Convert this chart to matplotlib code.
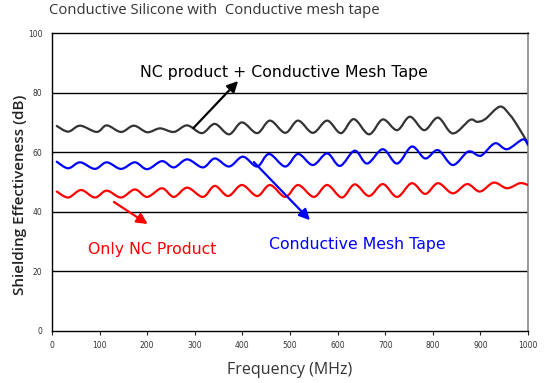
import numpy as np
import matplotlib.pyplot as plt
from matplotlib.path import Path
from matplotlib.patches import PathPatch

# Frequency (MHz) / shielding effectiveness (dB) at wave peaks and troughs
freq_combo = [10, 34, 59, 94, 115, 145, 172, 200, 227, 256, 284, 315, 342, 372, 399, 431,
              458, 490, 517, 548, 578, 607, 634, 666, 695, 725, 752, 782, 811, 842, 878,
              893, 910, 941, 962, 977, 1000]
se_combo = [68.8, 66.9, 68.9, 66.8, 69.0, 66.8, 68.9, 66.7, 68.0, 66.8, 69.0, 66.4, 69.5,
            66.0, 70.0, 66.4, 70.6, 66.5, 70.6, 66.5, 70.6, 66.4, 71.1, 66.0, 71.0, 67.4,
            71.9, 67.4, 71.6, 66.3, 70.8, 70.2, 71.1, 75.3, 72.5, 69.1, 63.0]

freq_tape = [10, 34, 59, 90, 115, 145, 174, 200, 231, 256, 284, 317, 342, 372, 401, 431,
             456, 490, 517, 548, 578, 605, 636, 662, 695, 725, 756, 784, 811, 842, 874,
             895, 905, 931, 956, 989, 1000]
se_tape = [56.8, 54.6, 56.6, 54.4, 56.6, 54.4, 56.6, 54.3, 57.0, 54.9, 57.6, 54.9, 57.9,
           55.2, 58.5, 55.2, 59.4, 55.2, 59.4, 55.7, 59.6, 55.4, 60.5, 56.2, 61.0, 56.2,
           61.9, 57.9, 60.7, 55.7, 60.2, 58.9, 59.2, 63.0, 61.0, 64.3, 62.4]

freq_nc = [10, 34, 61, 90, 115, 145, 174, 200, 231, 256, 284, 317, 342, 370, 399, 431,
           458, 490, 517, 550, 578, 609, 636, 666, 695, 725, 756, 784, 811, 842, 872,
           899, 928, 956, 983, 1000]
se_nc = [46.8, 44.8, 47.3, 44.8, 47.1, 44.8, 47.5, 45.0, 47.9, 45.0, 48.1, 45.0, 48.7,
         45.3, 49.0, 45.3, 49.0, 45.0, 49.0, 45.0, 49.0, 44.8, 49.2, 45.3, 49.3, 45.0,
         49.6, 46.0, 49.6, 46.2, 49.3, 46.8, 49.8, 47.9, 49.6, 49.0]

x_ticks = list(range(0, 1001, 100))
y_ticks = [0, 20, 40, 60, 80, 100]


def smooth_line(ax, xs, ys, color, lw=1.6):
    # Excel-style smoothed line: Catmull-Rom segments drawn as cubic Beziers
    pts = np.column_stack([xs, ys]).astype(float)
    verts = [pts[0]]
    codes = [Path.MOVETO]
    n = len(pts)
    for i in range(n - 1):
        p0 = pts[max(i - 1, 0)]
        p1 = pts[i]
        p2 = pts[i + 1]
        p3 = pts[min(i + 2, n - 1)]
        c1 = p1 + (p2 - p0) / 6.0
        c2 = p2 - (p3 - p1) / 6.0
        verts += [c1, c2, p2]
        codes += [Path.CURVE4] * 3
    ax.add_patch(PathPatch(Path(verts, codes), fill=False, edgecolor=color,
                           lw=lw, capstyle="round", joinstyle="round", zorder=3))


fig = plt.figure(figsize=(5.48, 3.83), dpi=100)
ax = fig.add_axes([0.0949, 0.1358, 0.8686, 0.778])

smooth_line(ax, freq_combo, se_combo, "#333333")
smooth_line(ax, freq_tape, se_tape, "#0000ff")
smooth_line(ax, freq_nc, se_nc, "#ff0000")

ax.set_xlim(0, 1000)
ax.set_ylim(0, 100)
ax.set_xticks(x_ticks)
ax.set_yticks(y_ticks)
ax.tick_params(axis="x", length=3, width=0.8, colors="#222222", labelsize=5.5, pad=4,
               labelcolor="#333333")
ax.tick_params(axis="y", length=0, labelsize=5.5, pad=7, labelcolor="#333333")
for y in y_ticks[1:-1]:
    ax.axhline(y, color="black", lw=1.0, zorder=1)
ax.spines["top"].set_color("black")
ax.spines["top"].set_linewidth(1.0)
ax.spines["right"].set_color("#888888")
ax.spines["right"].set_linewidth(1.2)
ax.spines["left"].set_linewidth(1.0)
ax.spines["bottom"].set_linewidth(1.0)

ax.set_xlabel("Frequency (MHz)", fontsize=11.5, color="#333333", labelpad=9,
              family="Open Sans")
ax.set_ylabel("Shielding Effectiveness (dB)", fontsize=11, color="#222222",
              family="Open Sans", fontweight="semibold")
ax.yaxis.set_label_coords(-0.052, 0.456)

fig.text(0.09, 0.972, "Conductive Silicone with  Conductive mesh tape", fontsize=10.7,
         color="#333333", family="Open Sans", va="center", ha="left")

ax.text(488, 86.9, "NC product + Conductive Mesh Tape", fontsize=11.3, color="black",
        ha="center", va="center", family="DejaVu Sans")
ax.text(210, 27.5, "Only NC Product", fontsize=11.3, color="#ff0000",
        ha="center", va="center", family="DejaVu Sans")
ax.text(641, 28.9, "Conductive Mesh Tape", fontsize=11.3, color="#0000ff",
        ha="center", va="center", family="DejaVu Sans")

# annotation arrows: (tail, head, colour)
arrows = [((297, 68.1), (391, 83.9), "black"),
          ((130, 43.3), (201, 35.9), "#ff0000"),
          ((424, 56.7), (542, 37.2), "#0000ff")]
for tail, head, col in arrows:
    ax.annotate("", xy=head, xytext=tail,
                arrowprops=dict(arrowstyle="-|>", color=col, lw=1.6,
                                mutation_scale=16, shrinkA=0, shrinkB=0),
                zorder=4)

fig.savefig("out.png", dpi=100)
